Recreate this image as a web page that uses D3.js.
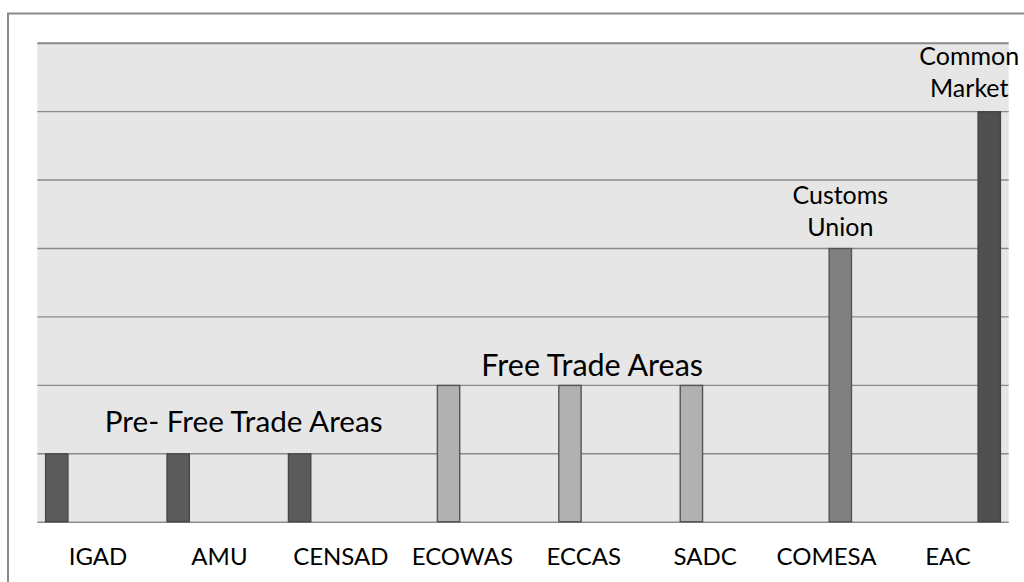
<!DOCTYPE html>
<html>
<head>
<meta charset="utf-8">
<script src="https://cdn.jsdelivr.net/npm/d3@7"></script>
<style>
  html, body { margin: 0; padding: 0; background: #fff; }
  svg { display: block; }
  text { font-family: Lato, "Open Sans", sans-serif; fill: #000; }
</style>
</head>
<body>
<svg id="chart" width="1024" height="582"></svg>
<script>
// ---- data ----
const categories = ["IGAD", "AMU", "CENSAD", "ECOWAS", "ECCAS", "SADC", "COMESA", "EAC"];
const seriesNames = ["Pre- Free Trade Areas", "Free Trade Areas", "Customs Union", "Common Market"];
const preFTA   = [1, 1, 1, 0, 0, 0, 0, 0];
const fta      = [0, 0, 0, 2, 2, 2, 0, 0];
const customs  = [0, 0, 0, 0, 0, 0, 4, 0];
const common   = [0, 0, 0, 0, 0, 0, 0, 6];
const yTicks   = [0, 1, 2, 3, 4, 5, 6, 7];

const seriesValues = [preFTA, fta, customs, common];
const seriesFill   = ["#5b5b5b", "#b1b1b1", "#808080", "#4f4f4f"];
const seriesStroke = ["#474747", "#555555", "#555555", "#444444"];

// ---- layout ----
const svg = d3.select("#chart");
const plot = { left: 37.3, right: 1008.7, top: 42.7, bottom: 521.7 };

// outer chart border (extends past right/bottom edge)
svg.append("rect")
  .attr("x", 8).attr("y", 13.5)
  .attr("width", 1030).attr("height", 600)
  .attr("fill", "#fff")
  .attr("stroke", "#898989").attr("stroke-width", 2);

const x = d3.scaleBand().domain(categories).range([plot.left, plot.right]).paddingInner(0).paddingOuter(0);
const xs = d3.scaleBand().domain(seriesNames).range([0, x.bandwidth()]).paddingInner(0.145).paddingOuter(0.28);
const y = d3.scaleLinear().domain([0, 7]).range([plot.bottom, plot.top]);

// plot background
svg.append("rect")
  .attr("x", plot.left).attr("y", plot.top)
  .attr("width", plot.right - plot.left).attr("height", plot.bottom - plot.top)
  .attr("fill", "#e6e6e6");

// gridlines via axis
const yAxis = d3.axisLeft(y).tickValues(yTicks).tickSize(-(plot.right - plot.left)).tickFormat("");
const gy = svg.append("g").attr("transform", `translate(${plot.left},0)`).call(yAxis);
gy.select(".domain").remove();
gy.selectAll(".tick line")
  .attr("stroke", "#8a8a8a")
  .attr("stroke-width", d => d === 7 ? 2 : 1.4);

// bars
const barData = [];
seriesNames.forEach((s, si) => {
  categories.forEach((c, ci) => {
    const v = seriesValues[si][ci];
    if (v > 0) barData.push({ c, s, si, v });
  });
});
svg.append("g").selectAll("rect").data(barData).join("rect")
  .attr("x", d => x(d.c) + xs(d.s) + 0.6)
  .attr("y", d => y(d.v) + 0.6)
  .attr("width", xs.bandwidth() - 1.2)
  .attr("height", d => y(0) - y(d.v) - 0.6)
  .attr("fill", d => seriesFill[d.si])
  .attr("stroke", d => seriesStroke[d.si])
  .attr("stroke-width", 1.4);

// category axis labels
const xAxis = d3.axisBottom(x).tickSize(0).tickPadding(0);
const gx = svg.append("g").attr("transform", `translate(0,${plot.bottom})`).call(xAxis);
gx.select(".domain").remove();
gx.selectAll(".tick text")
  .attr("y", 0).attr("dy", 0)
  .attr("transform", "translate(0,43.5)")
  .style("font-family", "Lato, 'Open Sans', sans-serif")
  .style("font-size", "24px")
  .attr("fill", "#000");

// annotations
const ann = svg.append("g");
ann.append("text")
  .attr("x", x("AMU") + x.bandwidth() * 0.70)
  .attr("y", y(1.31))
  .attr("text-anchor", "middle")
  .style("font-size", "29.7px")
  .text(seriesNames[0]);
ann.append("text")
  .attr("x", x("ECCAS") + x.bandwidth() * 0.57)
  .attr("y", y(2.13))
  .attr("text-anchor", "middle")
  .style("font-size", "30.5px")
  .text(seriesNames[1]);

const cuX = x("COMESA") + xs("Customs Union") + xs.bandwidth() / 2;
const cu = ann.append("text").attr("text-anchor", "middle").style("font-size", "25px");
cu.append("tspan").attr("x", cuX).attr("y", y(4) - 44).text("Customs");
cu.append("tspan").attr("x", cuX).attr("y", y(4) - 12).text("Union");

const cmX = x("EAC") + xs("Common Market") + xs.bandwidth() / 2 - 20;
const cm = ann.append("text").attr("text-anchor", "middle").style("font-size", "25px");
cm.append("tspan").attr("x", cmX).attr("y", y(6) - 46.6).text("Common");
cm.append("tspan").attr("x", cmX).attr("y", y(6) - 14).text("Market");
</script>
</body>
</html>
